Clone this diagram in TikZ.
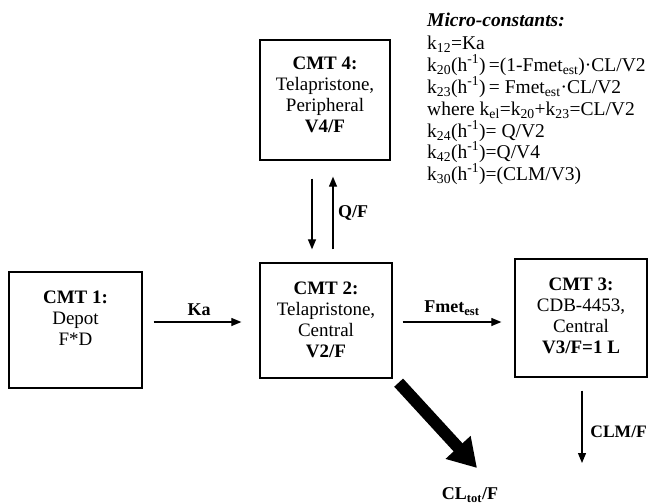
\documentclass[tikz,border=0pt]{standalone}
\usepackage{fontspec}
\setmainfont{Liberation Serif}
\usetikzlibrary{arrows.meta}
\begin{document}
\begin{tikzpicture}[x=1pt,y=-1pt,
  box/.style={draw, line width=1.3pt, rectangle, inner sep=0pt},
  boxtext/.style={align=center, inner sep=0pt, font=\fontsize{19}{20.8}\selectfont},
  arr/.style={line width=1.2pt, -{Triangle[length=10pt,width=8pt]}},
  lab/.style={inner sep=0pt, font=\fontsize{18}{20}\selectfont\bfseries},
  micro/.style={anchor=base west, inner sep=0pt, font=\fontsize{19.5}{21}\selectfont}]
\useasboundingbox (0,0) rectangle (649,504);
% boxes
\node[box, minimum width=133pt, minimum height=116pt] (c1) at (75.5,330) {};
\node[boxtext] (t1) at (75.5,318) {\textbf{CMT 1:}\\Depot\\F*D};
\node[box, minimum width=132pt, minimum height=115pt] (c2) at (326,320.5) {};
\node[boxtext] (t2) at (326,320) {\textbf{CMT 2:}\\Telapristone,\\Central\\\textbf{V2/F}};
\node[box, minimum width=132pt, minimum height=118pt] (c3) at (581,318) {};
\node[boxtext] (t3) at (581,316) {\textbf{CMT 3:}\\CDB-4453,\\Central\\\textbf{V3/F=1 L}};
\node[box, minimum width=130pt, minimum height=120pt] (c4) at (325,100) {};
\node[boxtext] (t4) at (325,95) {\textbf{CMT 4:}\\Telapristone,\\Peripheral\\\textbf{V4/F}};
% connectors
\draw[arr] ([shift={(11,-8)}]c1.east) -- ([shift={(-18,1.5)}]c2.west);
\draw[arr] ([shift={(10,1.5)}]c2.east) -- ([shift={(-13,4)}]c3.west);
\draw[arr] ([shift={(-13,18)}]c4.south) -- ([shift={(-14,-13)}]c2.north);
\draw[arr] ([shift={(7,-13)}]c2.north) -- ([shift={(8,16)}]c4.south);
\coordinate (clmend) at (582,463);
\draw[arr] ([shift={(1,13)}]c3.south) -- (clmend);
\coordinate (clend) at (477,468);
\draw[line width=12pt, -{Triangle[length=28pt,width=32pt]}] ([shift={(6,4)}]c2.south east) -- (clend);
% labels
\node[lab] (lka) at (199,310) {Ka};
\node[lab] (lfm) at (452,308) {Fmet\textsubscript{est}};
\node[lab] (lq) at (353,213) {Q/F};
\node[lab, anchor=east, font=\fontsize{17.5}{20}\selectfont\bfseries] (lclm) at (647,432) {CLM/F};
\node[lab] (lcl) at (470,495) {CL\textsubscript{tot}/F};
% micro-constants
\node[micro] (m0) at (427,26) {\textbf{\textit{Micro-constants:}}};
\node[micro] (m1) at (427,49) {k\textsubscript{12}=Ka};
\node[micro] (m2) at (427,71) {k\textsubscript{20}(h\textsuperscript{-1})\,=(1-Fmet\textsubscript{est})·CL/V2};
\node[micro] (m3) at (427,93) {k\textsubscript{23}(h\textsuperscript{-1})\,= Fmet\textsubscript{est}·CL/V2};
\node[micro] (m4) at (427,115) {where k\textsubscript{el}=k\textsubscript{20}+k\textsubscript{23}=CL/V2};
\node[micro] (m5) at (427,137) {k\textsubscript{24}(h\textsuperscript{-1})= Q/V2};
\node[micro] (m6) at (427,158) {k\textsubscript{42}(h\textsuperscript{-1})=Q/V4};
\node[micro] (m7) at (427,180) {k\textsubscript{30}(h\textsuperscript{-1})=(CLM/V3)};
\end{tikzpicture}
\end{document}
